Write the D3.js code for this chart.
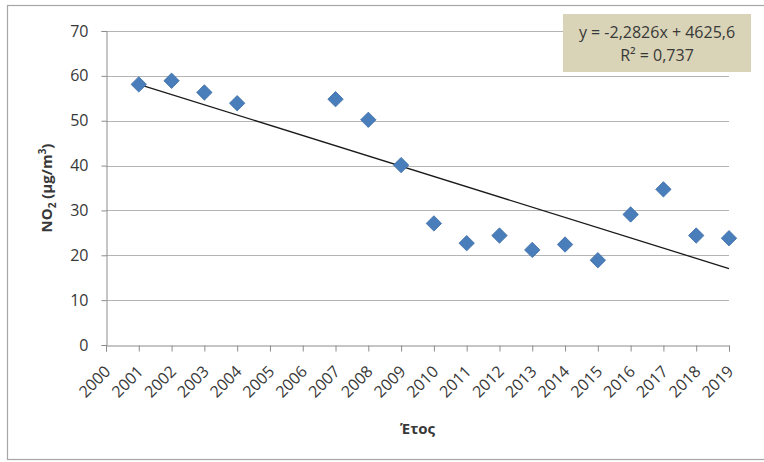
<!DOCTYPE html>
<html>
<head>
<meta charset="utf-8">
<script src="https://cdn.jsdelivr.net/npm/d3@7"></script>
<style>
  html, body { margin: 0; padding: 0; background: #fff; }
  svg { display: block; font-family: "Open Sans", "DejaVu Sans", sans-serif; }
</style>
</head>
<body>
<svg id="chart" width="764" height="462"></svg>
<script>
// Annual mean NO2 concentration by year
const years = [2001, 2002, 2003, 2004, 2007, 2008, 2009, 2010, 2011, 2012, 2013, 2014, 2015, 2016, 2017, 2018, 2019];
const no2 = [58.1, 58.9, 56.3, 53.9, 54.8, 50.2, 40.1, 27.1, 22.7, 24.4, 21.2, 22.4, 18.9, 29.1, 34.7, 24.4, 23.8];

// Linear trend (least squares) as printed on the chart
const trendSlope = -2.2826;
const trendIntercept = 4625.6;
const trendLabel = ["y = -2,2826x + 4625,6", "R² = 0,737"];

const xTicks = d3.range(2000, 2020);
const yTicks = [0, 10, 20, 30, 40, 50, 60, 70];

const svg = d3.select("#chart");
const plot = { left: 106, right: 729, top: 31, bottom: 345 };
const textColor = "#383838";

// Outer chart frame
svg.append("rect")
  .attr("x", 7.5).attr("y", 5.5)
  .attr("width", 770).attr("height", 454)
  .attr("fill", "#fff").attr("stroke", "#a6a6a6").attr("stroke-width", 1.2);

const x = d3.scaleLinear().domain([2000, 2019]).range([plot.left, plot.right]);
const y = d3.scaleLinear().domain([0, 70]).range([plot.bottom, plot.top]);

// Horizontal gridlines
svg.append("g")
  .selectAll("line")
  .data(yTicks.filter(d => d > 0))
  .join("line")
  .attr("x1", plot.left).attr("x2", plot.right)
  .attr("y1", d => Math.round(y(d)) + 0.5).attr("y2", d => Math.round(y(d)) + 0.5)
  .attr("stroke", "#b4b4b4").attr("stroke-width", 1.2);

// Y axis
const yAxis = svg.append("g")
  .attr("transform", `translate(${plot.left + 0.5},0)`)
  .call(d3.axisLeft(y).tickValues(yTicks).tickSize(5).tickPadding(13).tickFormat(d3.format("d")));
yAxis.select(".domain").attr("stroke", "#8c8c8c");
yAxis.selectAll(".tick line").attr("stroke", "#8c8c8c");
yAxis.selectAll(".tick text")
  .attr("fill", textColor).style("font-size", "16px")
  .style("font-family", "'Open Sans', sans-serif");

// X axis with slanted year labels
const xAxis = svg.append("g")
  .attr("transform", `translate(0,${plot.bottom + 0.5})`)
  .call(d3.axisBottom(x).tickValues(xTicks).tickSize(6).tickFormat(d3.format("d")));
xAxis.select(".domain").attr("stroke", "#8c8c8c");
xAxis.selectAll(".tick line").attr("stroke", "#8c8c8c");
xAxis.selectAll(".tick text")
  .attr("fill", textColor).style("font-size", "16px")
  .style("font-family", "'Open Sans', sans-serif")
  .attr("text-anchor", "end")
  .attr("dy", null)
  .attr("x", 0).attr("y", 0)
  .attr("dominant-baseline", "middle")
  .attr("transform", "translate(2,24) rotate(-45)");

// Axis titles
svg.append("text")
  .attr("x", (plot.left + plot.right) / 2).attr("y", 434)
  .attr("text-anchor", "middle")
  .attr("fill", textColor)
  .style("font-size", "15px").style("font-weight", "bold")
  .text("Έτος");

const yTitle = svg.append("text")
  .attr("transform", `translate(52,${(plot.top + plot.bottom) / 2}) rotate(-90)`)
  .attr("text-anchor", "middle")
  .attr("fill", textColor)
  .style("font-size", "15px").style("font-weight", "bold");
yTitle.append("tspan").text("NO");
yTitle.append("tspan").attr("dy", 4).style("font-size", "10px").text("2");
yTitle.append("tspan").attr("dy", -4).text(" (μg/m");
yTitle.append("tspan").attr("dy", -6).style("font-size", "10px").text("3");
yTitle.append("tspan").attr("dy", 6).text(")");

// Trend line across the data range
const tx0 = d3.min(years), tx1 = d3.max(years);
svg.append("line")
  .attr("x1", x(tx0)).attr("y1", y(trendSlope * tx0 + trendIntercept))
  .attr("x2", x(tx1)).attr("y2", y(trendSlope * tx1 + trendIntercept))
  .attr("stroke", "#1a1a1a").attr("stroke-width", 1.3);

// Diamond markers
const diamond = d3.symbol().type(d3.symbolSquare).size(118);
svg.append("g")
  .selectAll("path")
  .data(years.map((yr, i) => ({ yr, v: no2[i] })))
  .join("path")
  .attr("d", diamond)
  .attr("transform", d => `translate(${x(d.yr)},${y(d.v)}) rotate(45)`)
  .attr("fill", "#4a7ebb")
  .attr("stroke", "#3f6fa8").attr("stroke-width", 0.8);

// Trend equation label
const box = svg.append("g");
box.append("rect")
  .attr("x", 563).attr("y", 14)
  .attr("width", 188).attr("height", 58)
  .attr("fill", "#d9d4b7");
box.selectAll("text")
  .data(trendLabel)
  .join("text")
  .attr("x", 657).attr("y", (d, i) => 38 + i * 23)
  .attr("text-anchor", "middle")
  .attr("fill", textColor)
  .style("font-size", "16px")
  .text(d => d);
</script>
</body>
</html>
